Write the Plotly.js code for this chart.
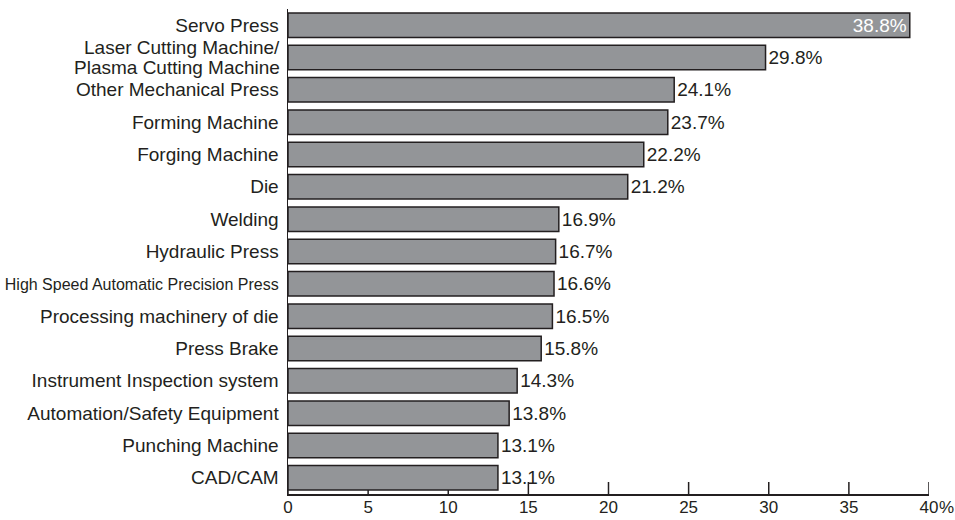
<!DOCTYPE html>
<html><head><meta charset="utf-8">
<script src="https://cdn.plot.ly/plotly-3.0.1.min.js"></script>
<style>body{margin:0;background:#fff}#c{width:955px;height:520px}</style>
</head><body><div id="c"></div>
<script>
const categories = [
  "Servo Press",
  "Laser Cutting Machine/ Plasma Cutting Machine",
  "Other Mechanical Press",
  "Forming Machine",
  "Forging Machine",
  "Die",
  "Welding",
  "Hydraulic Press",
  "High Speed Automatic Precision Press",
  "Processing machinery of die",
  "Press Brake",
  "Instrument Inspection system",
  "Automation/Safety Equipment",
  "Punching Machine",
  "CAD/CAM"
];
const values = [38.8, 29.8, 24.1, 23.7, 22.2, 21.2, 16.9, 16.7, 16.6, 16.5, 15.8, 14.3, 13.8, 13.1, 13.1];
const tickVals = [0, 5, 10, 15, 20, 25, 30, 35, 40];
const tickLabels = ["0", "5", "10", "15", "20", "25", "30", "35", "40"];

const font = "'Liberation Sans', Arial, sans-serif";
const ink = "#231f20";
const labels = values.map(v => v.toFixed(1) + "%");
const H = 520, MT = 9, MB = 26;
const tickFrac = 12 / (H - MT - MB);

// the two-line label is drawn as two annotations for tighter line spacing
const wrapIdx = 1;
const wrapLines = categories[wrapIdx].split(" Plasma").map((s, i) => i ? "Plasma" + s : s);
const yTickText = categories.map((c, i) => {
  if (i === wrapIdx) return "";
  if (c.length > 32) return '<span style="font-size:16px">' + c + '</span>';
  return c;
});

const trace = {
  type: "bar", orientation: "h",
  y: categories, x: values,
  text: labels,
  textposition: values.map((v, i) => i === 0 ? "inside" : "outside"),
  insidetextanchor: "end",
  constraintext: "none",
  outsidetextfont: {family: font, size: 19, color: ink},
  insidetextfont: {family: font, size: 19, color: "#ffffff"},
  marker: {color: "#939598", line: {color: ink, width: 1.5}},
  width: 0.76,
  cliponaxis: false,
  hoverinfo: "none"
};
const layout = {
  width: 955, height: H,
  margin: {l: 288, r: 26, t: MT, b: MB},
  paper_bgcolor: "#fff", plot_bgcolor: "#fff",
  showlegend: false,
  font: {family: font, size: 18, color: ink},
  xaxis: {
    range: [0, 40], tickvals: tickVals, ticktext: tickLabels,
    ticks: "", showline: true, linecolor: ink, linewidth: 1.5,
    showgrid: false, zeroline: false,
    ticklabelstandoff: -3,
    tickfont: {family: font, size: 17, color: ink}
  },
  yaxis: {
    autorange: "reversed", type: "category",
    tickvals: categories, ticktext: yTickText,
    showline: true, linecolor: ink, linewidth: 1.5,
    ticks: "", showgrid: false, zeroline: false,
    ticklabelstandoff: 4,
    tickfont: {family: font, size: 19, color: ink}
  },
  shapes: tickVals.map(v => ({
    type: "line", layer: "below", xref: "x", yref: "paper",
    x0: v, x1: v, y0: 0, y1: tickFrac,
    line: {color: ink, width: 1.5}
  })),
  annotations: [
    {xref: "paper", yref: "paper", x: 1, y: 0, xanchor: "left", yanchor: "top",
     xshift: 8, yshift: -2, text: "%", showarrow: false,
     font: {family: font, size: 17, color: ink}},
    ...wrapLines.map((t, k) => ({
      xref: "paper", yref: "y", x: 0, y: categories[wrapIdx],
      xanchor: "right", yanchor: "middle", xshift: -6, yshift: k ? -10 : 10,
      text: t, showarrow: false,
      font: {family: font, size: 19, color: ink}
    }))
  ]
};
Plotly.newPlot("c", [trace], layout, {staticPlot: true});
</script></body></html>
